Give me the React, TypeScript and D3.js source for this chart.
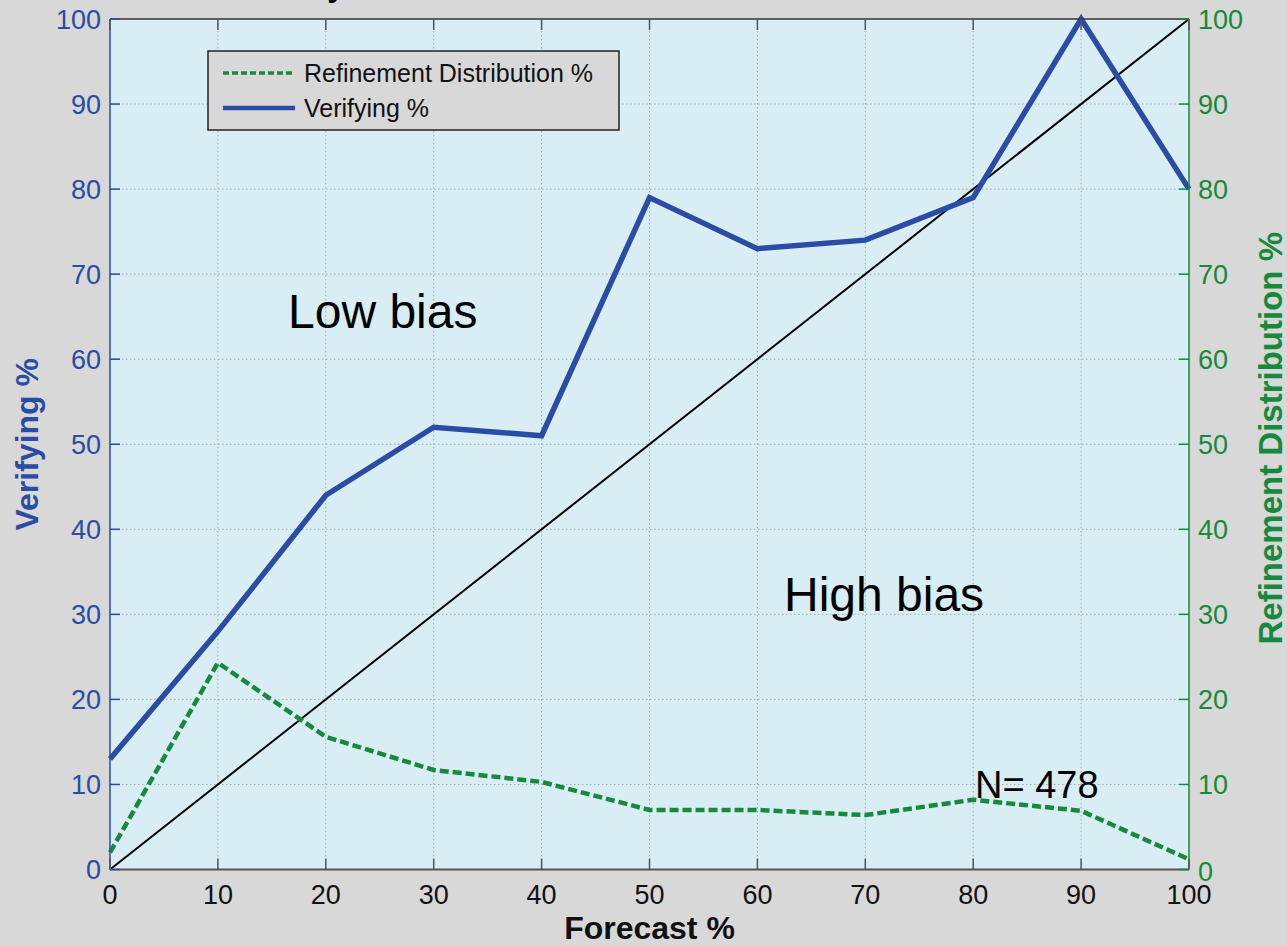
import React from "react";
import * as d3 from "d3";

const forecast = [0, 10, 20, 30, 40, 50, 60, 70, 80, 90, 100];
const verifying = [13, 28, 44, 52, 51, 79, 73, 74, 79, 100, 80];
const refinement = [2.0, 24.3, 15.6, 11.7, 10.3, 7.0, 7.0, 6.4, 8.2, 6.9, 1.2];
const ticks = [0, 10, 20, 30, 40, 50, 60, 70, 80, 90, 100];
const diagonal = [0, 100];

const W = 1287, H = 946;
const L = 110, R = 1189, T = 19, B = 869.5;
const BLUE = "#2a4ca4";
const GREEN = "#168a3c";
const FONT = "'Liberation Sans', Arial, Helvetica, sans-serif";

export default function App() {
  const x = d3.scaleLinear().domain([0, 100]).range([L, R]);
  const yL = d3.scaleLinear().domain([0, 100]).range([B, T]);
  const yR = d3.scaleLinear().domain([0, 100]).range([B, T]);

  const blueLine = d3.line<number>().x((_, i) => x(forecast[i])).y((d) => yL(d));
  const greenLine = d3.line<number>().x((_, i) => x(forecast[i])).y((d) => yR(d));
  const diagLine = d3.line<number>().x((d) => x(d)).y((d) => yL(d));

  return (
    <svg width={W} height={H} style={{ position: "absolute", left: 0, top: 0, display: "block" }} fontFamily={FONT}>
      <rect x={0} y={0} width={W} height={H} fill="#d8d8d8" />
      <text x={345} y={-4} textAnchor="end" fontSize={32} fontWeight="bold" fill="#000">Reliability</text>
      <rect x={L} y={T} width={R - L} height={B - T} fill="#d8eef4" />
      {/* grid */}
      {ticks.slice(1, -1).map((t) => (
        <line key={"gx" + t} x1={x(t)} x2={x(t)} y1={T} y2={B} stroke="#9aa8ac" strokeWidth={1} strokeDasharray="1.5,2.5" />
      ))}
      {ticks.slice(1, -1).map((t) => (
        <line key={"gy" + t} x1={L} x2={R} y1={yL(t)} y2={yL(t)} stroke="#9aa8ac" strokeWidth={1} strokeDasharray="1.5,2.5" />
      ))}
      {/* diagonal */}
      <path d={diagLine(diagonal) || ""} fill="none" stroke="#000" strokeWidth={2} />
      {/* green dashed */}
      <path d={greenLine(refinement) || ""} fill="none" stroke={GREEN} strokeWidth={4.5} strokeDasharray="9,4" />
      {/* blue */}
      <path d={blueLine(verifying) || ""} fill="none" stroke={BLUE} strokeWidth={5.5} strokeLinejoin="miter" />
      {/* axes frame */}
      <line x1={L} x2={R} y1={T} y2={T} stroke="#333" strokeWidth={1.5} />
      <line x1={L} x2={R} y1={B} y2={B} stroke="#555" strokeWidth={2} />
      <line x1={L} x2={L} y1={T} y2={B} stroke={BLUE} strokeWidth={1.5} />
      <line x1={R} x2={R} y1={T} y2={B} stroke={GREEN} strokeWidth={1.5} />
      {/* x ticks */}
      {ticks.map((t) => (
        <g key={"xt" + t}>
          <line x1={x(t)} x2={x(t)} y1={B} y2={B - 11} stroke="#555" strokeWidth={1.5} />
          <line x1={x(t)} x2={x(t)} y1={T} y2={T + 11} stroke="#555" strokeWidth={1.5} />
          <text x={x(t)} y={B + 34} textAnchor="middle" fontSize={27} fill="#111">{t}</text>
        </g>
      ))}
      {/* left ticks */}
      {ticks.map((t) => (
        <g key={"yl" + t}>
          <line x1={L} x2={L + 10} y1={yL(t)} y2={yL(t)} stroke={BLUE} strokeWidth={1.5} />
          <text x={101} y={yL(t) + 9.5} textAnchor="end" fontSize={27} fill={BLUE}>{t}</text>
        </g>
      ))}
      {/* right ticks */}
      {ticks.map((t) => (
        <g key={"yr" + t}>
          <line x1={R} x2={R - 10} y1={yR(t)} y2={yR(t)} stroke={GREEN} strokeWidth={1.5} />
          <text x={1198} y={yR(t) + (t === 0 ? 11 : 9.5)} textAnchor="start" fontSize={27} fill={GREEN}>{t}</text>
        </g>
      ))}
      {/* axis titles */}
      <text x={(L + R) / 2} y={939} textAnchor="middle" fontSize={32} fontWeight="bold" fill="#111">Forecast %</text>
      <text transform={`translate(38,${(T + B) / 2}) rotate(-90)`} textAnchor="middle" fontSize={32} fontWeight="bold" fill={BLUE}>Verifying %</text>
      <text transform={`translate(1282,${(T + B) / 2 - 6}) rotate(-90)`} textAnchor="middle" fontSize={33} fontWeight="bold" fill={GREEN}>Refinement Distribution %</text>
      {/* annotations */}
      <text x={288} y={328} fontSize={48} fill="#000">Low bias</text>
      <text x={784} y={611} fontSize={48} fill="#000">High bias</text>
      <text x={975} y={798} fontSize={38} fill="#000">N= 478</text>
      {/* legend */}
      <rect x={208} y={51} width={411} height={79} fill="#d8d8d8" stroke="#222" strokeWidth={1.5} />
      <line x1={223} x2={295} y1={73} y2={73} stroke={GREEN} strokeWidth={3.5} strokeDasharray="6,3" />
      <line x1={223} x2={295} y1={108} y2={108} stroke={BLUE} strokeWidth={4.5} />
      <text x={304} y={82} fontSize={25} fill="#111">Refinement Distribution %</text>
      <text x={304} y={117} fontSize={25} fill="#111">Verifying %</text>
    </svg>
  );
}
